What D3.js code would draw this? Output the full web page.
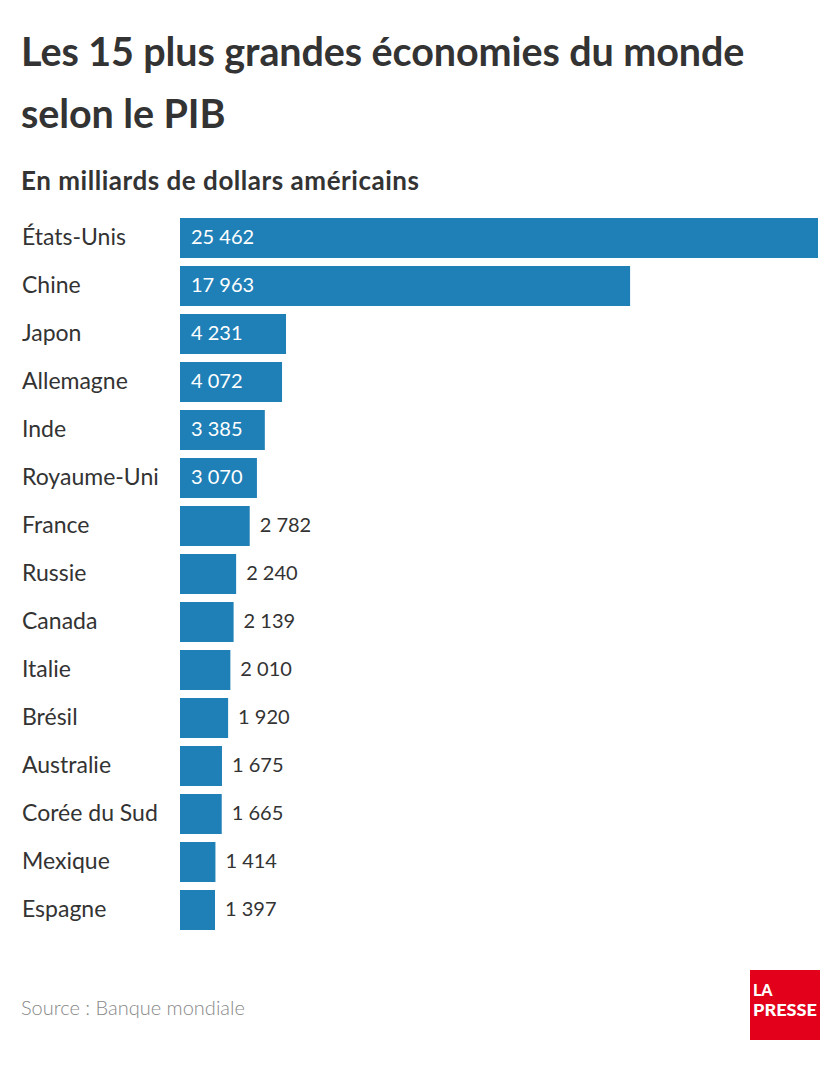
<!DOCTYPE html>
<html>
<head>
<meta charset="utf-8">
<script src="https://cdn.jsdelivr.net/npm/d3@7"></script>
<style>
  body { margin: 0; background: #fff; }
  svg { display: block; font-family: Lato, "Open Sans", sans-serif; }
</style>
</head>
<body>
<div id="chart"></div>
<script>
  'use strict';

  // data
  var countries = ['États-Unis', 'Chine', 'Japon', 'Allemagne', 'Inde', 'Royaume-Uni',
    'France', 'Russie', 'Canada', 'Italie', 'Brésil', 'Australie', 'Corée du Sud',
    'Mexique', 'Espagne'];
  var gdp = [25462, 17963, 4231, 4072, 3385, 3070, 2782, 2240, 2139, 2010, 1920,
    1675, 1665, 1414, 1397];
  var titleLines = ['Les 15 plus grandes économies du monde', 'selon le PIB'];
  var subtitle = 'En milliards de dollars américains';
  var source = 'Source : Banque mondiale';

  var width = 840;
  var height = 1066;
  var insideThreshold = 3000;

  var svg = d3.select('#chart').append('svg')
    .attr('width', width)
    .attr('height', height);

  var x = d3.scaleLinear()
    .domain([0, d3.max(gdp)])
    .range([180, 818]);

  // 40px bars on a 48px step
  var y = d3.scaleBand()
    .domain(countries)
    .range([218, 930])
    .paddingInner(8 / 48)
    .paddingOuter(0);

  var fmt = function (v) {
    return d3.format(',')(v).replace(/,/g, ' ');
  };

  // titles
  svg.selectAll('text.title')
    .data(titleLines)
    .enter()
    .append('text')
      .attr('class', 'title')
      .attr('x', 21)
      .attr('y', function (d, i) { return 66 + i * 62; })
      .attr('fill', '#333')
      .attr('font-size', 39.5)
      .attr('font-weight', 700)
      .attr('letter-spacing', -0.1)
      .text(function (d) { return d; });

  svg.append('text')
    .attr('x', 21)
    .attr('y', 190)
    .attr('fill', '#333')
    .attr('font-size', 26)
    .attr('font-weight', 700)
    .attr('textLength', 398)
    .attr('lengthAdjust', 'spacing')
    .text(subtitle);

  var rows = svg.selectAll('g.row')
    .data(countries)
    .enter()
    .append('g')
      .attr('class', 'row');

  rows.append('text')
    .attr('x', 22)
    .attr('y', function (d) { return y(d) + y.bandwidth() / 2 + 7; })
    .attr('fill', '#333')
    .attr('font-size', 23)
    .text(function (d) { return d; });

  rows.append('rect')
    .attr('x', x(0))
    .attr('y', function (d) { return y(d); })
    .attr('width', function (d, i) { return x(gdp[i]) - x(0); })
    .attr('height', y.bandwidth())
    .attr('fill', '#1f7fb7');

  rows.append('text')
    .attr('x', function (d, i) {
      return gdp[i] >= insideThreshold ? x(0) + 11 : x(gdp[i]) + 10;
    })
    .attr('y', function (d) { return y(d) + y.bandwidth() / 2 + 6; })
    .attr('fill', function (d, i) { return gdp[i] >= insideThreshold ? '#fff' : '#333'; })
    .attr('font-size', 20)
    .text(function (d, i) { return fmt(gdp[i]); });

  // source
  svg.append('text')
    .attr('x', 21)
    .attr('y', 1015)
    .attr('fill', '#888')
    .attr('font-size', 20)
    .attr('font-weight', 300)
    .text(source);

  // logo
  var logo = svg.append('g').attr('transform', 'translate(750,970)');
  logo.append('rect')
    .attr('width', 70)
    .attr('height', 70)
    .attr('fill', '#e2001a');
  logo.append('text')
    .attr('x', 3)
    .attr('y', 26)
    .attr('fill', '#fff')
    .attr('font-size', 16)
    .attr('font-weight', 900)
    .text('LA');
  logo.append('text')
    .attr('x', 3)
    .attr('y', 46)
    .attr('fill', '#fff')
    .attr('font-size', 16)
    .attr('font-weight', 900)
    .attr('textLength', 64)
    .attr('lengthAdjust', 'spacingAndGlyphs')
    .text('PRESSE');
</script>
</body>
</html>
